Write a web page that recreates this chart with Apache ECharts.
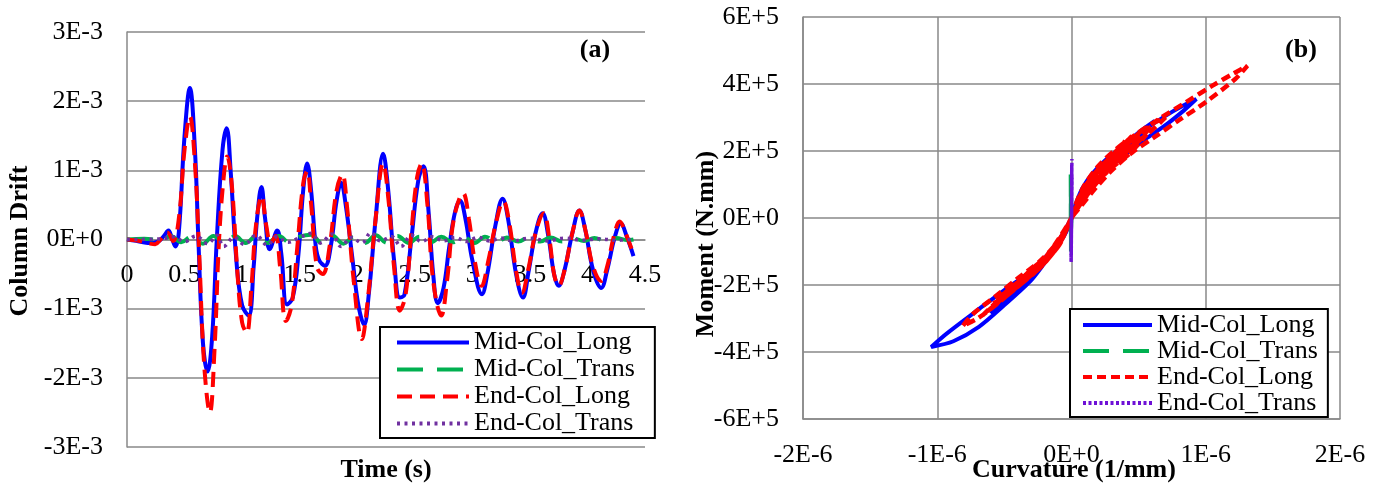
<!DOCTYPE html>
<html>
<head>
<meta charset="utf-8">
<title>Column drift and moment-curvature</title>
<script src="https://cdn.jsdelivr.net/npm/echarts@6/dist/echarts.min.js"></script>
<style>
  html, body { margin: 0; padding: 0; background: #fff; }
  #chart { width: 1386px; height: 486px; }
</style>
</head>
<body>
<div id="chart"></div>
<script>
// (a) drift vs time: [time s, drift in 1E-3]
const midColLongDrift = [
  [0, 0], [0.08, -0.02], [0.18, -0.05], [0.27, -0.03], [0.32, 0.05], [0.36, 0.13], [0.39, 0.02],
  [0.42, -0.1], [0.45, 0.1], [0.5, 1.5], [0.546, 2.19], [0.59, 1.3], [0.62, 0], [0.66, -1.5],
  [0.7, -1.91], [0.74, -1.4], [0.78, 0], [0.83, 1.3], [0.866, 1.61], [0.9, 1.0], [0.95, -0.3],
  [1.0, -0.95], [1.057, -1.1], [1.1, -0.4], [1.13, 0.3], [1.168, 0.76], [1.2, 0.3], [1.24, -0.14],
  [1.305, 0.13], [1.34, -0.2], [1.39, -0.94], [1.44, -0.84], [1.49, -0.2], [1.53, 0.7], [1.565, 1.1],
  [1.6, 0.7], [1.64, -0.1], [1.67, -0.3], [1.72, -0.38], [1.77, -0.1], [1.82, 0.55], [1.86, 0.82],
  [1.9, 0.5], [1.96, -0.3], [2.01, -0.95], [2.06, -1.23], [2.1, -0.8], [2.16, 0.3], [2.225, 1.24],
  [2.27, 0.7], [2.32, -0.3], [2.37, -0.84], [2.41, -0.8], [2.47, 0], [2.53, 0.85], [2.576, 1.06],
  [2.62, 0.4], [2.66, -0.5], [2.7, -0.92], [2.75, -0.7], [2.8, -0.1], [2.85, 0.4], [2.893, 0.56],
  [2.94, 0.3], [3.0, -0.3], [3.084, -0.79], [3.13, -0.5], [3.2, 0.2], [3.263, 0.59], [3.31, 0.3],
  [3.38, -0.5], [3.44, -0.84], [3.49, -0.45], [3.55, 0.1], [3.61, 0.38], [3.66, 0.05], [3.71, -0.5],
  [3.75, -0.67], [3.8, -0.45], [3.87, 0.1], [3.93, 0.42], [3.98, 0.15], [4.05, -0.45], [4.12, -0.7],
  [4.17, -0.45], [4.24, 0.05], [4.29, 0.23], [4.34, 0.05], [4.4, -0.24]
];
const midColTransDrift = [
  [0, 0], [0.15, 0.01], [0.3, -0.01], [0.38, 0.05], [0.47, -0.04], [0.56, 0.04], [0.66, -0.06],
  [0.75, 0.05], [0.85, -0.06], [0.94, 0.05], [1.03, -0.05], [1.13, 0.06], [1.22, -0.05], [1.32, 0.05],
  [1.41, -0.04], [1.5, 0.04], [1.6, 0.07], [1.69, -0.05], [1.78, 0.06], [1.88, -0.06], [1.97, 0.04],
  [2.07, -0.05], [2.16, 0.06], [2.26, -0.05], [2.35, 0.05], [2.45, -0.05], [2.54, 0.04], [2.64, -0.04],
  [2.73, 0.04], [2.83, -0.04], [2.92, 0.04], [3.02, -0.05], [3.11, 0.04], [3.21, -0.04], [3.3, 0.03],
  [3.4, -0.03], [3.49, 0.03], [3.59, -0.03], [3.68, 0.03], [3.78, -0.03], [3.87, 0.02], [3.97, -0.02],
  [4.06, 0.02], [4.16, -0.02], [4.25, 0.02], [4.35, -0.01], [4.4, 0]
];
const endColLongDrift = [
  [0, 0], [0.1, -0.02], [0.2, -0.06], [0.245, -0.07], [0.29, 0], [0.35, 0.1], [0.4, -0.02],
  [0.45, 0.3], [0.5, 1.3], [0.546, 1.78], [0.59, 1.1], [0.625, -0.1], [0.67, -1.8], [0.72, -2.5],
  [0.76, -1.6], [0.8, 0], [0.84, 0.9], [0.87, 1.2], [0.91, 0.8], [0.96, -0.5], [1.0, -1.2],
  [1.04, -1.35], [1.08, -0.7], [1.12, 0.2], [1.17, 0.63], [1.21, 0.2], [1.25, -0.05], [1.29, 0.05],
  [1.33, -0.4], [1.38, -1.18], [1.43, -0.95], [1.48, -0.1], [1.53, 0.8], [1.565, 0.99], [1.6, 0.5],
  [1.65, -0.4], [1.7, -0.5], [1.76, -0.1], [1.82, 0.7], [1.87, 0.94], [1.91, 0.5], [1.97, -0.6],
  [2.04, -1.44], [2.09, -0.9], [2.16, 0.3], [2.225, 1.1], [2.27, 0.6], [2.32, -0.4], [2.37, -1.03],
  [2.42, -0.8], [2.47, 0.1], [2.52, 0.9], [2.56, 1.1], [2.61, 0.5], [2.66, -0.6], [2.73, -1.1],
  [2.78, -0.6], [2.84, 0.3], [2.92, 0.67], [2.97, 0.3], [3.02, -0.3], [3.08, -0.67], [3.14, -0.3],
  [3.2, 0.2], [3.27, 0.55], [3.32, 0.25], [3.38, -0.45], [3.43, -0.77], [3.49, -0.4], [3.55, 0.1],
  [3.62, 0.38], [3.67, 0], [3.71, -0.5], [3.75, -0.67], [3.8, -0.45], [3.87, 0.1], [3.93, 0.42],
  [3.98, 0.15], [4.05, -0.4], [4.12, -0.6], [4.17, -0.4], [4.23, 0.05], [4.28, 0.26], [4.33, 0.1],
  [4.39, -0.17]
];
const endColTransDrift = [
  [0, 0], [0.3, 0.01], [0.4, 0.04], [0.5, -0.03], [0.6, 0.05], [0.7, -0.06], [0.78, 0.06],
  [0.84, -0.1], [0.93, 0.03], [1.02, -0.07], [1.12, 0.06], [1.22, -0.08], [1.3, 0.04], [1.4, -0.04],
  [1.5, 0.03], [1.6, 0.09], [1.68, -0.05], [1.78, 0.08], [1.86, -0.1], [1.95, 0.03], [2.04, -0.05],
  [2.12, 0.1], [2.2, -0.02], [2.3, 0.04], [2.38, -0.1], [2.47, 0.06], [2.56, -0.03], [2.65, 0.04],
  [2.75, -0.02], [2.85, 0.03], [2.95, -0.03], [3.05, 0.03], [3.15, -0.02], [3.25, 0.02], [3.35, -0.02],
  [3.5, 0.02], [3.65, -0.02], [3.8, 0.02], [3.95, -0.01], [4.1, 0.01], [4.25, -0.01], [4.38, 0]
];

// (b) moment vs curvature: [curvature in 1E-6 1/mm, moment in 1E+5 N.mm]
const midColLongMoment = [
  [0, 0], [0.03, 0.4], [0.08, 0.88], [0.15, 1.3], [0.25, 1.72], [0.4, 2.2], [0.55, 2.65], [0.7, 3.05],
  [0.83, 3.35], [0.93, 3.55], [0.84, 3.22], [0.71, 2.8], [0.55, 2.35], [0.4, 1.9], [0.25, 1.4],
  [0.13, 0.85], [0.05, 0.4], [0, 0], [-0.04, -0.42], [-0.09, -0.75], [-0.15, -1.05], [-0.22, -1.45],
  [-0.31, -1.9], [-0.5, -2.6], [-0.69, -3.25], [-0.88, -3.68], [-1.045, -3.85], [-0.93, -3.45],
  [-0.69, -2.72], [-0.5, -2.15], [-0.31, -1.61], [-0.19, -1.15], [-0.1, -0.7], [-0.03, -0.3], [0, 0],
  [0.1, 1.0], [0.3, 1.85], [0.5, 2.55], [0.62, 2.9], [0.5, 2.4], [0.3, 1.6], [0.1, 0.7], [0, 0],
  [-0.12, -0.9], [-0.35, -1.95], [-0.6, -2.85], [-0.45, -2.2], [-0.25, -1.45], [-0.1, -0.7], [0, 0]
];
const midColTransMoment = [
  [0, 0], [-0.006, 1.3], [-0.004, -1.0], [-0.005, 0.9], [-0.006, -0.6], [0, 0]
];
const endColLongMoment = [
  [0, 0], [0.04, 0.5], [0.1, 1.0], [0.2, 1.55], [0.33, 2.05], [0.48, 2.5], [0.65, 2.95], [0.85, 3.45],
  [1.05, 3.95], [1.2, 4.3], [1.31, 4.54], [1.22, 4.15], [1.0, 3.46], [0.8, 2.92], [0.62, 2.42],
  [0.45, 1.95], [0.3, 1.42], [0.17, 0.85], [0.07, 0.35], [0, 0], [-0.05, -0.45], [-0.12, -0.9],
  [-0.22, -1.35], [-0.38, -1.95], [-0.55, -2.55], [-0.7, -3.0], [-0.81, -3.22], [-0.73, -2.85],
  [-0.57, -2.35], [-0.4, -1.8], [-0.24, -1.3], [-0.11, -0.75], [0, 0], [0.06, 0.6], [0.15, 1.15],
  [0.3, 1.75], [0.45, 2.3], [0.6, 2.8], [0.7, 3.0], [0.58, 2.55], [0.42, 2.05], [0.27, 1.45],
  [0.12, 0.7], [0, 0], [-0.1, -0.85], [-0.25, -1.5], [-0.42, -2.1], [-0.6, -2.7], [-0.5, -2.25],
  [-0.32, -1.65], [-0.16, -1.05], [0, 0], [0.1, 0.95], [0.25, 1.6], [0.4, 2.15], [0.52, 2.6],
  [0.4, 2.0], [0.25, 1.35], [0.1, 0.6], [0, 0], [-0.12, -0.95], [-0.28, -1.65], [-0.45, -2.2],
  [-0.33, -1.65], [-0.18, -1.1], [0, 0], [0.15, 1.2], [0.3, 1.85], [0.4, 2.3], [0.28, 1.6],
  [0.12, 0.75], [0, 0], [0.08, 0.8], [0.2, 1.4], [0.35, 1.95], [0.5, 2.45], [0.6, 2.75],
  [0.48, 2.25], [0.33, 1.75], [0.18, 1.15], [0.06, 0.5], [0, 0], [-0.08, -0.7], [-0.2, -1.25],
  [-0.35, -1.8], [-0.5, -2.35], [-0.66, -2.9], [-0.54, -2.45], [-0.36, -1.9], [-0.2, -1.35],
  [-0.07, -0.6], [0, 0], [0.12, 1.05], [0.22, 1.55], [0.34, 2.0], [0.45, 2.45], [0.36, 2.05],
  [0.24, 1.5], [0.1, 0.8], [0, 0], [-0.14, -1.05], [-0.3, -1.7], [-0.52, -2.45], [-0.4, -2.0],
  [-0.22, -1.35], [-0.06, -0.5], [0, 0], [0.09, 0.7], [0.2, 1.25], [0.32, 1.7], [0.46, 2.15],
  [0.56, 2.5], [0.44, 1.95], [0.3, 1.5], [0.16, 0.95], [0, 0], [-0.09, -0.8], [-0.24, -1.45],
  [-0.4, -2.05], [-0.58, -2.55], [-0.45, -2.05], [-0.28, -1.5], [-0.12, -0.9], [0, 0]
];
const endColTransMoment = [
  [0, 0], [0.004, 1.2], [-0.002, -0.9], [0.003, 1.76], [-0.003, -1.31], [0.002, 1.5], [-0.002, -1.1],
  [0.003, 1.3], [-0.003, -1.2], [0.002, 1.6], [-0.002, -0.8], [0.001, 1.0], [0, 0]
];

const seriesNames = ["Mid-Col_Long", "Mid-Col_Trans", "End-Col_Long", "End-Col_Trans"];
const driftTicks = ["-3E-3", "-2E-3", "-1E-3", "0E+0", "1E-3", "2E-3", "3E-3"];
const momentTicks = ["-6E+5", "-4E+5", "-2E+5", "0E+0", "2E+5", "4E+5", "6E+5"];
const curvatureTicks = ["-2E-6", "-1E-6", "0E+0", "1E-6", "2E-6"];

const font = "'Liberation Serif', 'Times New Roman', serif";
const gridGray = "#898989";

// line styles per chart, same order as seriesNames
const stylesA = [
  { color: "#0000FF", type: "solid", width: 4 },
  { color: "#00B050", type: [26, 14], width: 4 },
  { color: "#FF0000", type: [15, 8], width: 4 },
  { color: "#7030A0", type: [3, 4.5], width: 3.5 }
];
const stylesB = [
  { color: "#0000FF", type: "solid", width: 4 },
  { color: "#00B050", type: [26, 14], width: 4 },
  { color: "#FF0000", type: [9, 5], width: 4.5 },
  { color: "#6E10D6", type: [3, 2.5], width: 3.5 }
];

function makeSeries(i, data, styles, axisIndex) {
  return {
    type: "line",
    name: seriesNames[i],
    xAxisIndex: axisIndex,
    yAxisIndex: axisIndex,
    data: data,
    symbol: "none",
    smooth: axisIndex === 0 ? 0.4 : 0.3,
    lineStyle: styles[i],
    itemStyle: { color: styles[i].color },
    z: 2 + i
  };
}

function makeLegend(styles, left, top, itemWidth, lineHeight, padding) {
  return {
    orient: "vertical",
    left: left,
    top: top,
    itemWidth: itemWidth,
    itemHeight: 14,
    itemGap: 0,
    padding: padding,
    borderColor: "#000",
    borderWidth: 2,
    backgroundColor: "#fff",
    selectedMode: false,
    textStyle: { fontFamily: font, fontSize: 26, lineHeight: lineHeight, color: "#000" },
    data: seriesNames.map((n, i) => ({
      name: n,
      lineStyle: Object.assign({}, styles[i], { width: 4 }),
      // hide the marker so only the line sample is drawn
      itemStyle: { color: "rgba(0,0,0,0)", borderWidth: 0, opacity: 0 }
    }))
  };
}

function titleText(text, x, y, rotation) {
  return {
    type: "text",
    x: x,
    y: y,
    rotation: rotation || 0,
    style: {
      text: text,
      fontFamily: font,
      fontSize: 26,
      fontWeight: "bold",
      fill: "#000",
      align: "center",
      verticalAlign: "middle"
    }
  };
}

const labelStyle = { fontFamily: font, fontSize: 26, color: "#000" };

const chart = echarts.init(document.getElementById("chart"));
chart.setOption({
  animation: false,
  backgroundColor: "#fff",
  grid: [
    { left: 127, top: 32, width: 518, height: 415 },
    { left: 803, top: 17, width: 537, height: 402 }
  ],
  xAxis: [
    {
      // time axis sits on the zero drift line
      type: "value", gridIndex: 0, min: 0, max: 4.5, interval: 0.5,
      position: "bottom", offset: -207,
      axisLine: { show: true, onZero: false, lineStyle: { color: gridGray, width: 1.5 } },
      axisTick: { show: false },
      axisLabel: Object.assign({ margin: 22 }, labelStyle),
      splitLine: { show: false }
    },
    {
      type: "value", gridIndex: 1, min: -2, max: 2, interval: 1,
      axisLine: { show: true, onZero: false, lineStyle: { color: gridGray, width: 1.5 } },
      axisTick: { show: false },
      axisLabel: Object.assign({ margin: 23, formatter: (v, i) => curvatureTicks[i] }, labelStyle),
      splitLine: { show: true, lineStyle: { color: gridGray, width: 1.5 } }
    }
  ],
  yAxis: [
    {
      type: "value", gridIndex: 0, min: -3, max: 3, interval: 1,
      axisLine: { show: true, onZero: false, lineStyle: { color: gridGray, width: 1.5 } },
      axisTick: { show: false },
      axisLabel: Object.assign({ margin: 24, formatter: (v, i) => driftTicks[i] }, labelStyle),
      splitLine: { show: true, lineStyle: { color: gridGray, width: 1.5 } }
    },
    {
      type: "value", gridIndex: 1, min: -6, max: 6, interval: 2,
      axisLine: { show: true, onZero: false, lineStyle: { color: gridGray, width: 1.5 } },
      axisTick: { show: false },
      axisLabel: Object.assign({ margin: 24, formatter: (v, i) => momentTicks[i] }, labelStyle),
      splitLine: { show: true, lineStyle: { color: gridGray, width: 1.5 } }
    }
  ],
  legend: [
    makeLegend(stylesA, 380, 327, 72, 27, [2, 20, 1, 15]),
    makeLegend(stylesB, 1070, 309, 69, 26, [3, 10, 1, 11])
  ],
  graphic: [
    titleText("Column Drift", 20, 241, Math.PI / 2),
    titleText("Time (s)", 386, 470),
    titleText("(a)", 595, 50),
    titleText("Moment (N.mm)", 706, 244, Math.PI / 2),
    titleText("Curvature (1/mm)", 1074, 470),
    titleText("(b)", 1301, 50)
  ],
  series: [
    makeSeries(0, midColLongDrift, stylesA, 0),
    makeSeries(1, midColTransDrift, stylesA, 0),
    makeSeries(2, endColLongDrift, stylesA, 0),
    makeSeries(3, endColTransDrift, stylesA, 0),
    makeSeries(0, midColLongMoment, stylesB, 1),
    makeSeries(1, midColTransMoment, stylesB, 1),
    makeSeries(2, endColLongMoment, stylesB, 1),
    makeSeries(3, endColTransMoment, stylesB, 1)
  ]
});
</script>
</body>
</html>
